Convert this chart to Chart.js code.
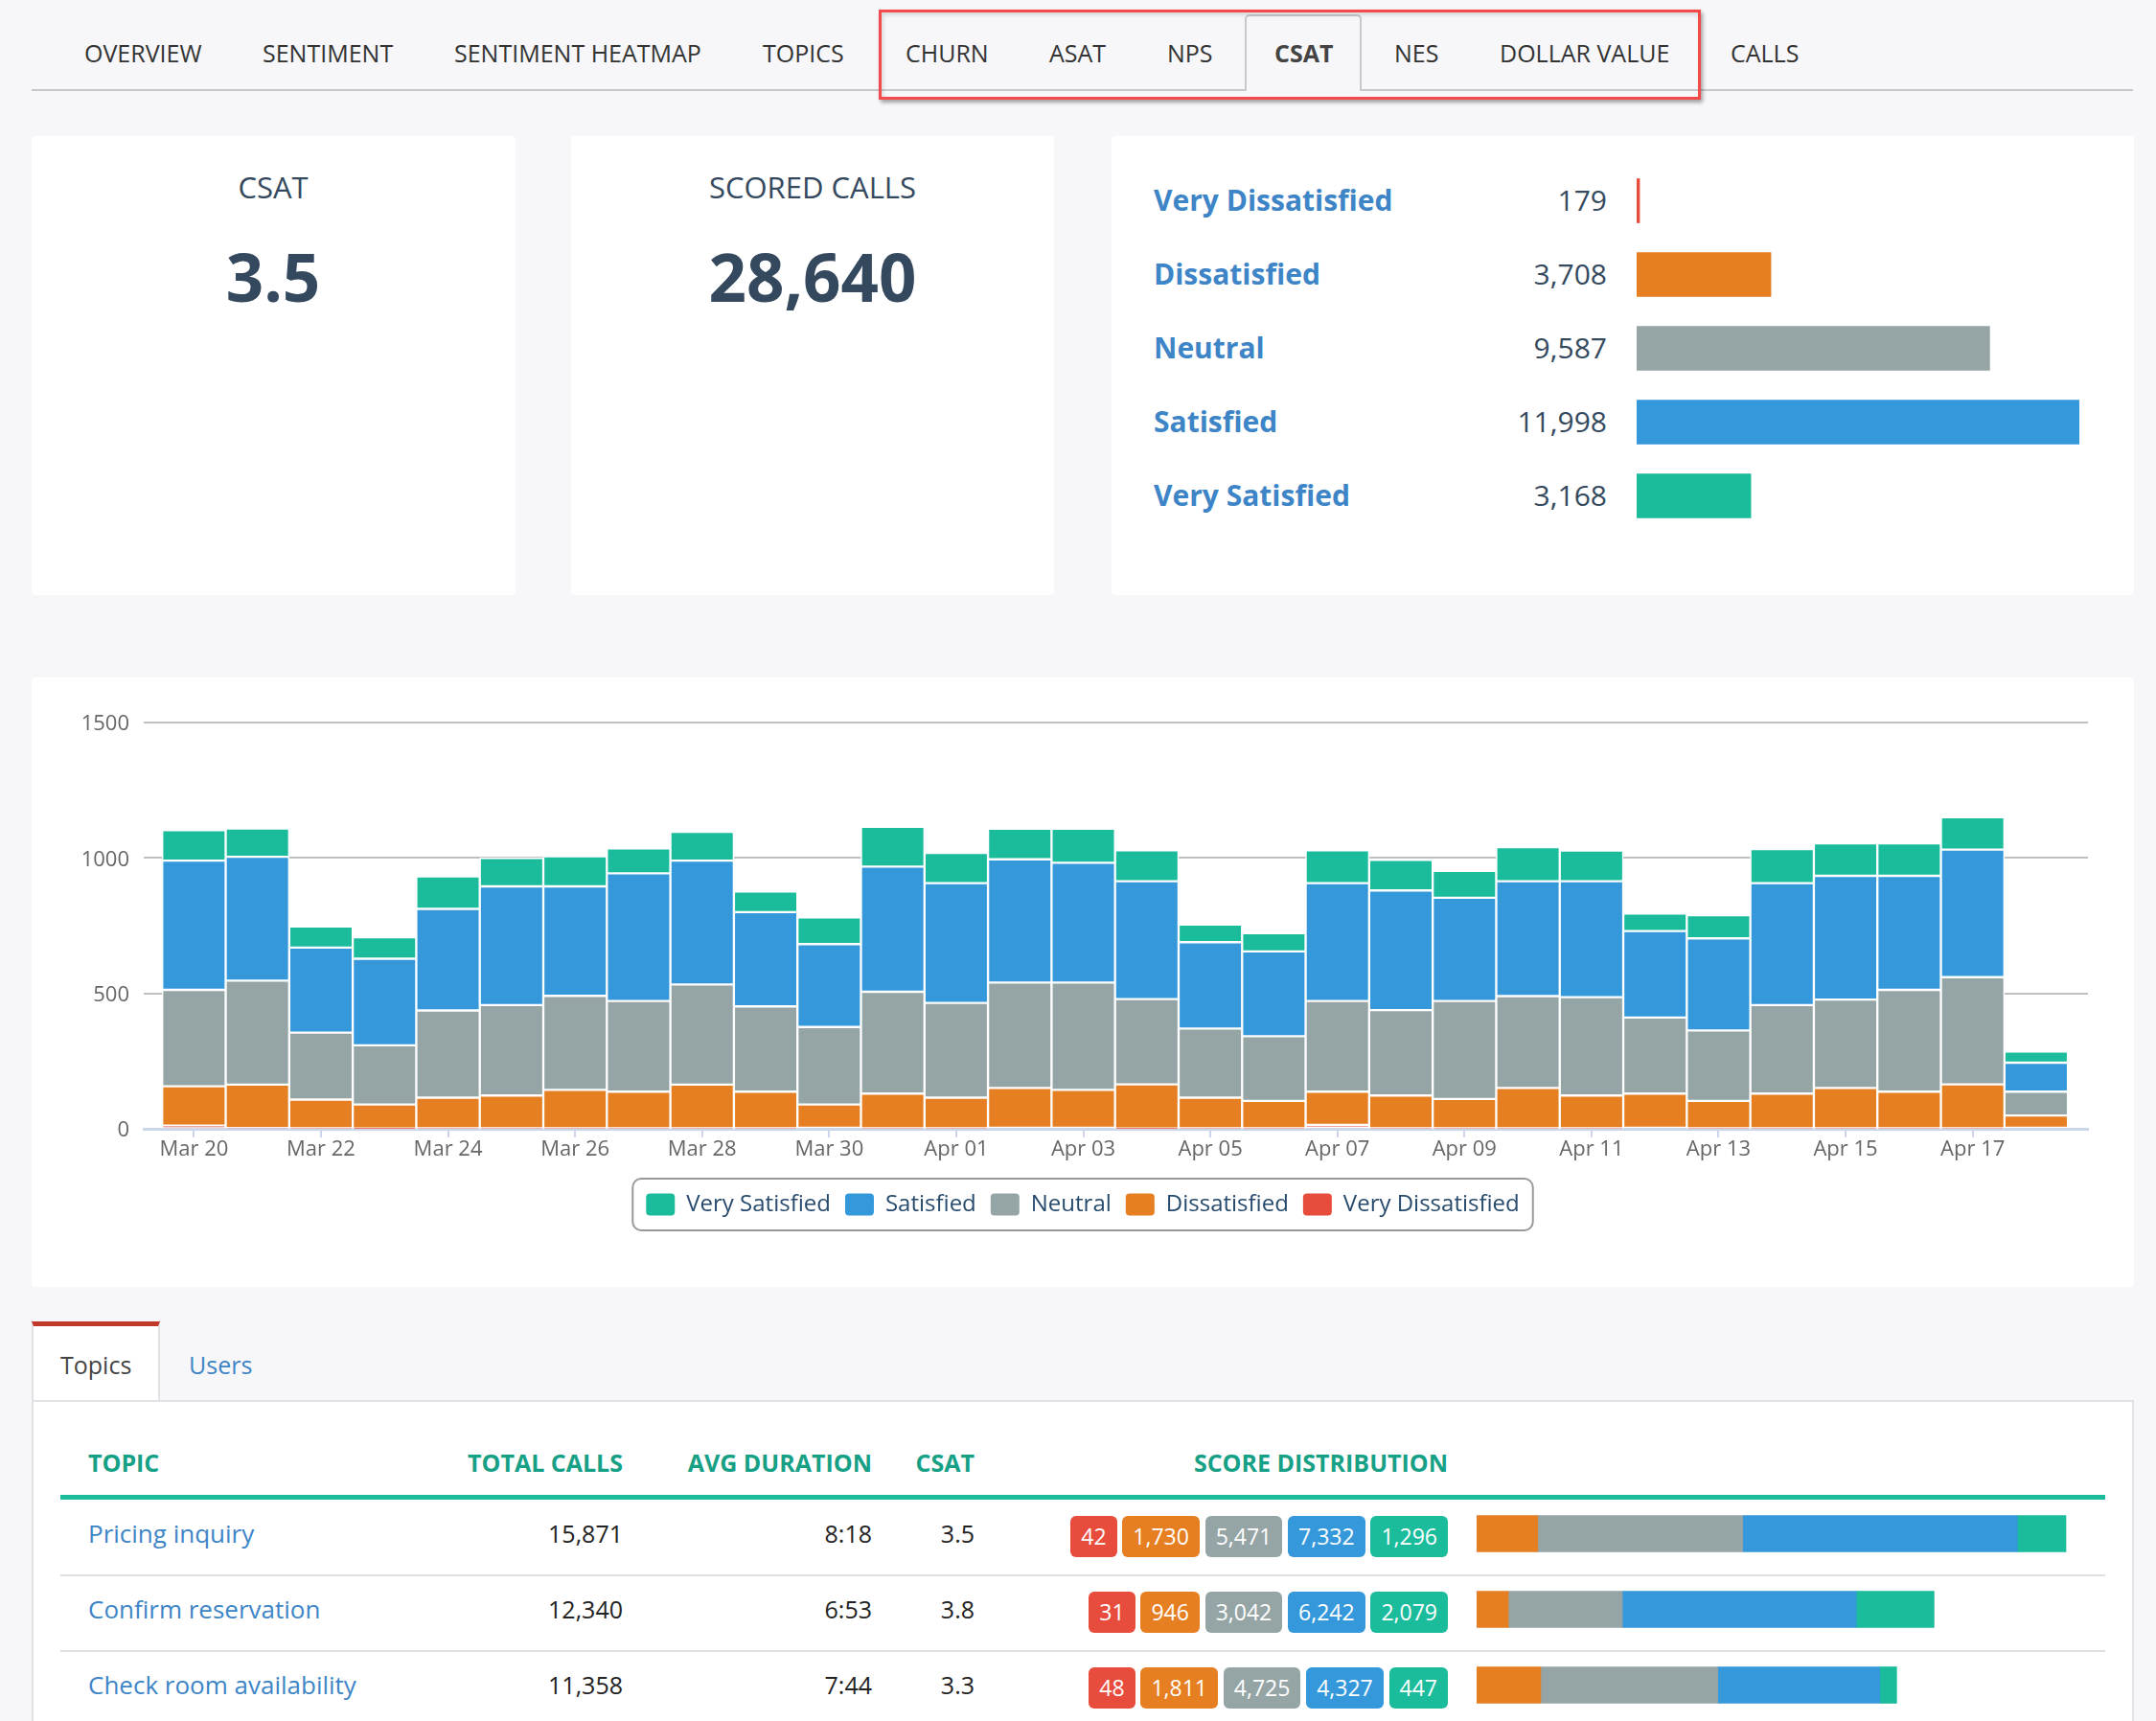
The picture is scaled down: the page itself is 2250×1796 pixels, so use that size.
<!DOCTYPE html>
<html>
<head>
<meta charset="utf-8">
<title>CSAT</title>
<script src="https://cdn.jsdelivr.net/npm/chart.js@4/dist/chart.umd.min.js"></script>
<style>
html, body { margin: 0; padding: 0; }
body { width: 2250px; height: 1796px; overflow: hidden; background: #f7f7f9; position: relative; font-family: "Open Sans", sans-serif; }
.box { position: absolute; box-sizing: border-box; }
.t { position: absolute; white-space: nowrap; line-height: 1; transform: translateY(-50%); }
canvas { position: absolute; display: block; }
</style>
</head>
<body>
<canvas id="dailyChart" width="2194" height="588" style="left:33px;top:707px"></canvas>
<script>
// --- data ---
const days = ['Mar 20','Mar 21','Mar 22','Mar 23','Mar 24','Mar 25','Mar 26','Mar 27','Mar 28','Mar 29','Mar 30','Mar 31',
  'Apr 01','Apr 02','Apr 03','Apr 04','Apr 05','Apr 06','Apr 07','Apr 08','Apr 09','Apr 10','Apr 11','Apr 12','Apr 13',
  'Apr 14','Apr 15','Apr 16','Apr 17','Apr 18'];
const veryDissatisfied = [12,3,2,1,2,2,2,2,2,2,0,2,2,0,0,1,2,2,14,2,2,2,2,0,2,2,2,2,2,0];
const dissatisfied = [145,160,106,89,113,121,142,135,161,135,90,128,113,151,144,163,113,101,123,121,108,149,121,130,101,128,149,135,162,49];
const neutral = [356,384,247,218,322,334,347,335,370,315,286,376,350,389,396,315,255,239,335,315,362,339,363,281,260,327,326,376,396,88];
const satisfied = [477,457,314,320,375,438,404,471,457,348,306,462,442,455,442,435,319,313,435,442,381,424,428,319,340,450,457,421,471,107];
const verySatisfied = [113,105,78,79,120,105,111,92,106,76,99,147,112,113,126,114,65,67,121,113,99,126,113,65,86,126,120,120,119,41];

const scoreNames = ['Very Dissatisfied','Dissatisfied','Neutral','Satisfied','Very Satisfied'];
const scoreTotals = [179,3708,9587,11998,3168];
const scoreColors = ['#e74c3c','#e67e22','#95a5a6','#3498db','#1abc9c'];

const navItems = ['OVERVIEW','SENTIMENT','SENTIMENT HEATMAP','TOPICS','CHURN','ASAT','NPS','CSAT','NES','DOLLAR VALUE','CALLS'];
const navLeft = [88,274,474,796,945,1095,1218,1330,1455,1565,1806];

const topics = ['Pricing inquiry','Confirm reservation','Check room availability'];
const totalCalls = ['15,871','12,340','11,358'];
const avgDuration = ['8:18','6:53','7:44'];
const topicCsat = ['3.5','3.8','3.3'];
const topicVeryDissatisfied = [42,31,48];
const topicDissatisfied = [1730,946,1811];
const topicNeutral = [5471,3042,4725];
const topicSatisfied = [7332,6242,4327];
const topicVerySatisfied = [1296,2079,447];

// --- page furniture ---
function box(x, y, w, h, css) {
  const d = document.createElement('div');
  d.className = 'box';
  d.style.cssText = `left:${x}px;top:${y}px;width:${w}px;height:${h}px;${css || ''}`;
  document.body.insertBefore(d, document.body.firstChild);
  return d;
}
function txt(s, x, y, size, color, weight, align) {
  const d = document.createElement('div');
  d.className = 't';
  d.textContent = s;
  let tr = 'translateY(-50%)';
  if (align === 'right') tr = 'translate(-100%,-50%)';
  if (align === 'center') tr = 'translate(-50%,-50%)';
  d.style.cssText = `left:${x}px;top:${y}px;font-size:${size}px;color:${color};font-weight:${weight || 400};transform:${tr}`;
  document.body.appendChild(d);
  return d;
}
function newCanvas(x, y, w, h) {
  const c = document.createElement('canvas');
  c.width = w; c.height = h;
  c.style.left = x + 'px'; c.style.top = y + 'px';
  document.body.appendChild(c);
  return c;
}
const fmt = n => n.toLocaleString('en-US');

// cards (inserted backwards so the later ones sit lower in the stack)
box(33, 1461, 2194, 340, 'background:#fff;border-style:solid;border-width:2px 2px 0 2px;border-color:#e2e2e6');
box(33, 1379, 134, 84, 'background:#fff;border-top:5px solid #c0392b;border-right:2px solid #e2e2e6;border-left:2px solid #e2e2e6');
box(33, 707, 2194, 636, 'background:#fff;border-radius:4px');
box(1160, 142, 1067, 479, 'background:#fff;border-radius:4px');
box(596, 142, 504, 479, 'background:#fff;border-radius:4px');
box(33, 142, 505, 479, 'background:#fff;border-radius:4px');
box(1299, 15, 122, 80, 'background:#f7f7f9;border:2px solid #c8c8cc;border-bottom:0;border-radius:5px 5px 0 0');
box(33, 93, 2193, 2, 'background:#c8c8cc');

navItems.forEach((n, i) => {
  txt(n, navLeft[i], 55, 25, n === 'CSAT' ? '#444' : '#333', n === 'CSAT' ? 700 : 400);
});

// red highlight around the tab group
box(917, 10, 858, 94, 'border:3px solid #f44a4a;box-shadow:2px 3px 4px rgba(0,0,0,.35),inset 2px 3px 4px rgba(0,0,0,.12);z-index:5');

txt('CSAT', 285, 195, 31, '#34495e', 400, 'center');
txt('3.5', 285, 288, 69, '#34495e', 700, 'center');
txt('SCORED CALLS', 848, 195, 31, '#34495e', 400, 'center');
txt('28,640', 848, 288, 69, '#34495e', 700, 'center');

scoreNames.forEach((n, i) => {
  const y = 209 + i * 77;
  txt(n, 1204, y, 30, '#3d85c6', 700);
  txt(fmt(scoreTotals[i]), 1677, y, 30, '#34495e', 400, 'right');
});

// table
txt('Topics', 63, 1424, 25, '#444');
txt('Users', 197, 1424, 25, '#3d85c6');
txt('TOPIC', 92, 1526, 25, '#16a085', 700);
txt('TOTAL CALLS', 650, 1526, 25, '#16a085', 700, 'right');
txt('AVG DURATION', 910, 1526, 25, '#16a085', 700, 'right');
txt('CSAT', 1017, 1526, 25, '#16a085', 700, 'right');
txt('SCORE DISTRIBUTION', 1511, 1526, 25, '#16a085', 700, 'right');
box(63, 1560, 2134, 5, 'background:#1abc9c;z-index:1');
box(63, 1643, 2134, 2, 'background:#e0e0e0;z-index:1');
box(63, 1722, 2134, 2, 'background:#e0e0e0;z-index:1');

topics.forEach((name, r) => {
  const y = 1600 + r * 79;
  txt(name, 92, y, 26, '#3d85c6', 500);
  txt(totalCalls[r], 650, y, 25, '#222', 500, 'right');
  txt(avgDuration[r], 910, y, 25, '#222', 500, 'right');
  txt(topicCsat[r], 1017, y, 25, '#222', 500, 'right');
  const row = document.createElement('div');
  row.style.cssText = `position:absolute;right:${2250 - 1511}px;top:${1582 + r * 79}px;display:flex;gap:5.8px`;
  [topicVeryDissatisfied, topicDissatisfied, topicNeutral, topicSatisfied, topicVerySatisfied].forEach((arr, k) => {
    const b = document.createElement('div');
    b.textContent = fmt(arr[r]);
    b.style.cssText = `height:43px;line-height:43px;padding:0 11px;border-radius:6px;color:#fff;font-size:23px;font-weight:500;background:${scoreColors[k]}`;
    row.appendChild(b);
  });
  document.body.appendChild(row);
});

// --- main stacked chart ---
const toPoints = arr => arr.map((v, i) => ({ x: i, y: v }));
const dailySeries = [veryDissatisfied, dissatisfied, neutral, satisfied, verySatisfied];

const legendFrame = {
  id: 'legendFrame',
  afterDraw(chart) {
    const hit = chart.legend.legendHitBoxes;
    const last = hit[hit.length - 1];
    const ctx = chart.ctx;
    const cy = hit[0].top + hit[0].height / 2;
    ctx.save();
    ctx.strokeStyle = '#999';
    ctx.lineWidth = 2;
    ctx.beginPath();
    ctx.roundRect(hit[0].left - 14, cy - 27, last.left + last.width - hit[0].left + 28, 54, 9);
    ctx.stroke();
    ctx.restore();
  }
};

new Chart(document.getElementById('dailyChart'), {
  type: 'bar',
  data: {
    datasets: scoreNames.map((name, k) => ({
      label: name,
      data: toPoints(dailySeries[k]),
      backgroundColor: scoreColors[k],
      borderColor: '#fff',
      borderWidth: 1.5,
      borderSkipped: false,
      categoryPercentage: 1,
      barPercentage: 1
    }))
  },
  plugins: [legendFrame],
  options: {
    responsive: false,
    animation: false,
    layout: { padding: { top: 47, right: 48, left: 48, bottom: 16 } },
    plugins: {
      tooltip: { enabled: false },
      legend: {
        position: 'bottom',
        reverse: true,
        labels: {
          boxWidth: 30, boxHeight: 23, padding: 15, color: '#274b6d', useBorderRadius: true, borderRadius: 4,
          font: { family: '"Open Sans"', size: 24 },
          generateLabels(chart) {
            const items = Chart.defaults.plugins.legend.labels.generateLabels(chart);
            items.forEach(it => { it.lineWidth = 0; });
            return items;
          }
        }
      }
    },
    scales: {
      x: {
        type: 'linear',
        stacked: true,
        offset: false,
        min: -0.79,
        max: 29.815,
        afterBuildTicks(scale) {
          scale.ticks = days.map((d, i) => ({ value: i })).filter(t => t.value % 2 === 0 && t.value < 29);
        },
        afterFit(scale) { scale.height = 52; },
        grid: { offset: false, drawOnChartArea: false, drawTicks: true, tickLength: 9, tickColor: '#ccd6eb', lineWidth: 2 },
        border: { display: true, color: '#ccd6eb', width: 3 },
        ticks: {
          autoSkip: false, maxRotation: 0, padding: 0, color: '#666',
          font: { family: '"Open Sans"', size: 22 },
          callback: v => days[v]
        }
      },
      y: {
        stacked: true,
        min: 0,
        max: 1500,
        afterFit(scale) { scale.width = 69; },
        grid: { color: '#c0c0c0', lineWidth: 2, drawTicks: false },
        border: { display: false },
        ticks: { stepSize: 500, padding: 15, labelOffset: 2, color: '#666', font: { family: '"Open Sans"', size: 22 }, callback: v => String(v) }
      }
    }
  }
});

// --- score totals, one horizontal bar each ---
new Chart(newCanvas(1708, 171, 462, 385), {
  type: 'bar',
  data: {
    labels: scoreNames,
    datasets: [{ data: scoreTotals, backgroundColor: scoreColors, barThickness: 46 }]
  },
  options: {
    indexAxis: 'y',
    responsive: false,
    animation: false,
    plugins: { legend: { display: false }, tooltip: { enabled: false } },
    scales: {
      x: { display: false, min: 100, max: 11998 },
      y: { display: false }
    }
  }
});

// --- stacked bars in the topics table ---
const topicSeries = [topicDissatisfied, topicNeutral, topicSatisfied, topicVerySatisfied];
new Chart(newCanvas(1541, 1561, 640, 237), {
  type: 'bar',
  data: {
    labels: topics,
    datasets: topicSeries.map((arr, k) => ({ data: arr, backgroundColor: scoreColors[k + 1], barThickness: 38 }))
  },
  options: {
    indexAxis: 'y',
    responsive: false,
    animation: false,
    plugins: { legend: { display: false }, tooltip: { enabled: false } },
    scales: {
      x: { display: false, stacked: true, min: 100, max: 16468 },
      y: { display: false, stacked: true }
    }
  }
});
</script>
</body>
</html>
